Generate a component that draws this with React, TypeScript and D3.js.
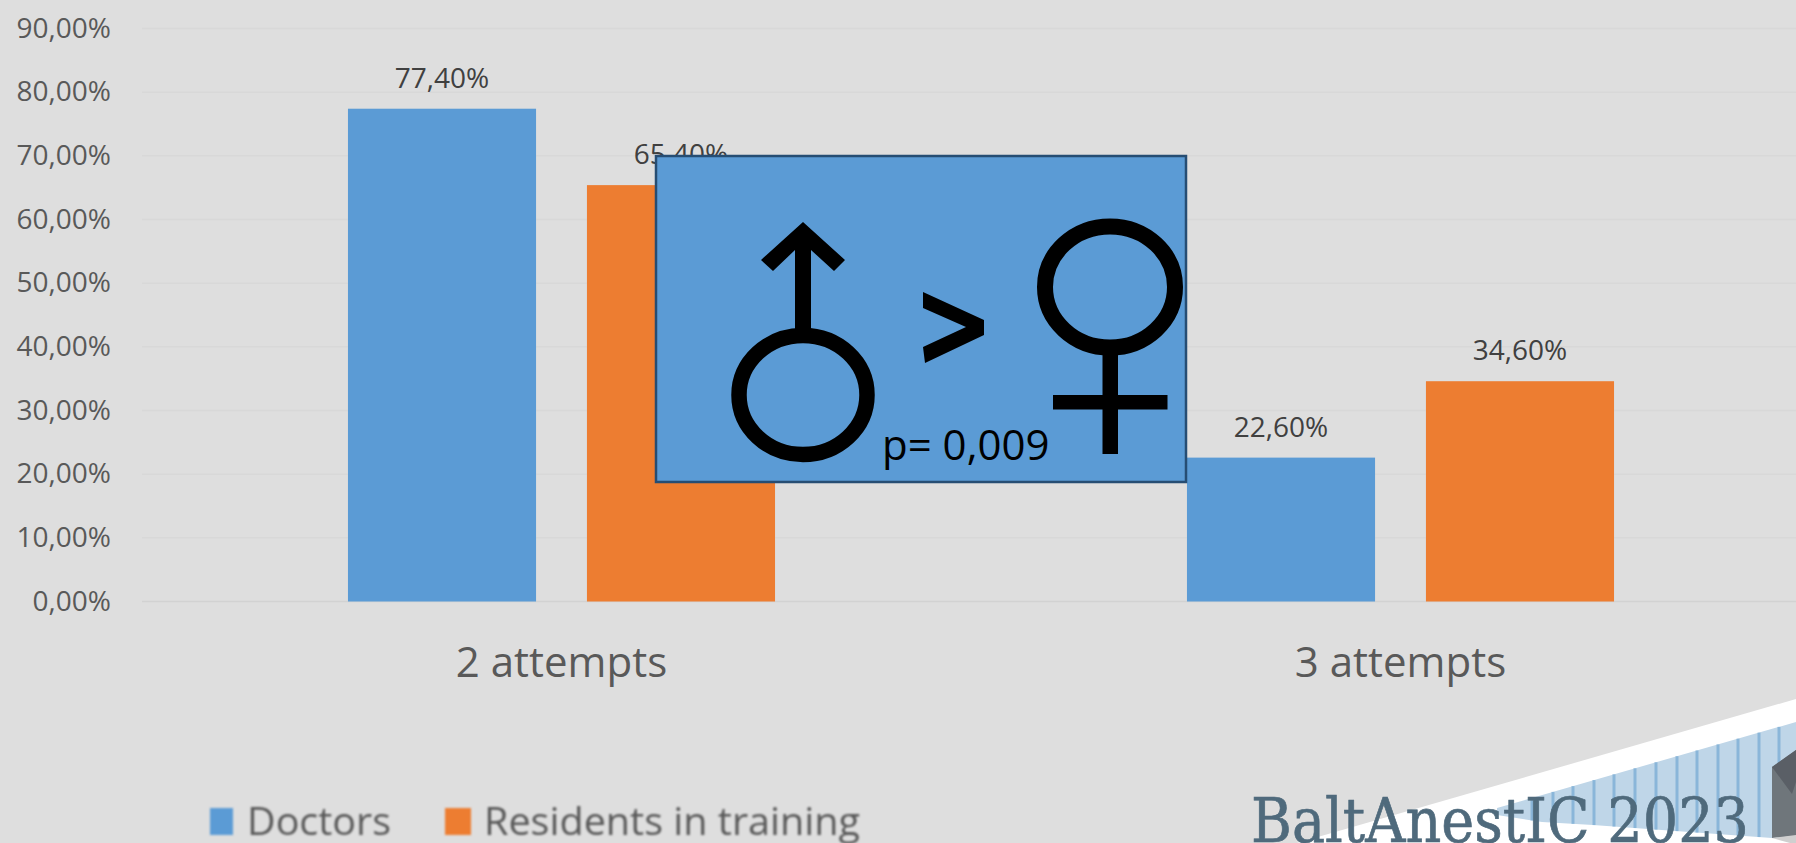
import React from "react";
import * as d3 from "d3";

const W = 1796, H = 843;
const categories = ["2 attempts", "3 attempts"];
const seriesNames = ["Doctors", "Residents in training"];
const doctors = [77.4, 22.6];
const residents = [65.4, 34.6];
const ticks = [0, 10, 20, 30, 40, 50, 60, 70, 80, 90];
const colors = ["#5b9bd5", "#ed7d31"];
const stripes = [1512, 1532, 1553, 1573, 1594, 1614, 1635, 1656, 1677, 1697, 1718, 1738, 1759, 1779];

const fmt = (v: number) => v.toFixed(2).replace(".", ",") + "%";
const F = "'Open Sans', sans-serif";

export default function App() {
  const y = d3.scaleLinear().domain([0, 90]).range([601.5, 28.5]);
  const x0 = d3.scaleBand<string>().domain(categories).range([142, 1820]).paddingInner(0.491).paddingOuter(0.2455);
  const x1 = d3.scaleBand<string>().domain(seriesNames).range([0, x0.bandwidth()]).paddingInner(0.213);
  const values = [doctors, residents];
  const bandTop = (x: number) => 808 + (x - 1497) * (722 - 808) / (1796 - 1497);
  const bandBot = d3.scaleLinear().domain([1497, 1542, 1593, 1772]).range([815, 822, 825, 838]);
  return (
    <svg width={W} height={H} style={{ position: "absolute", left: 0, top: 0, background: "#dedede" }}>
      <rect x={0} y={0} width={W} height={H} fill="#dedede" />
      {ticks.map((t) => (
        <g key={t}>
          <line x1={142} x2={W} y1={y(t)} y2={y(t)} stroke={t === 0 ? "#d2d2d2" : "#d8d8d8"} strokeWidth={1.5} />
          <text x={111} y={y(t) + 9} textAnchor="end" fontFamily={F} fontSize={28} fill="#595959">{fmt(t)}</text>
        </g>
      ))}
      {categories.map((c, i) => (
        <g key={c}>
          {seriesNames.map((s, j) => {
            const bx = x0(c)! + x1(s)!;
            const v = values[j][i];
            return (
              <g key={s}>
                <rect x={bx} y={y(v)} width={x1.bandwidth()} height={y(0) - y(v)} fill={colors[j]} />
                <text x={bx + x1.bandwidth() / 2} y={y(v) - 21} textAnchor="middle" fontFamily={F} fontSize={28} fill="#404040">{fmt(v)}</text>
              </g>
            );
          })}
          <text x={x0(c)! + x0.bandwidth() / 2} y={677} textAnchor="middle" fontFamily={F} fontSize={42} fill="#595959">{c}</text>
        </g>
      ))}

      {/* overlay box */}
      <rect x={656} y={156} width={530} height={326} fill="#5b9bd5" stroke="#264d73" strokeWidth={2.5} />
      <ellipse cx={803} cy={395} rx={64} ry={59.5} fill="none" stroke="#000" strokeWidth={15.5} />
      <polygon points="803,222 845,260 834,271 811,250 811,332 795,332 795,250 773,271 761,260" fill="#000" />
      <polygon points="923,292 984,320 984,335 925,363 923,347 966,327 923,308" fill="#000" />
      <ellipse cx={1110} cy={287} rx={65} ry={60.5} fill="none" stroke="#000" strokeWidth={16} />
      <rect x={1102.5} y={352} width={15.5} height={102} fill="#000" />
      <rect x={1053} y={395} width={114.5} height={14.5} fill="#000" />
      <text x={882} y={460} fontFamily={F} fontSize={42} fill="#000">p= 0,009</text>

      {/* legend */}
      <g style={{ filter: "blur(1px)" }}>
        <rect x={210} y={808} width={23} height={27} fill={colors[0]} />
        <text x={247} y={835} fontFamily={F} fontSize={38} fill="#595959" textLength={144} lengthAdjust="spacingAndGlyphs">{seriesNames[0]}</text>
        <rect x={445} y={808} width={26} height={27} fill={colors[1]} />
        <text x={484} y={835} fontFamily={F} fontSize={38} fill="#595959" textLength={376} lengthAdjust="spacingAndGlyphs">{seriesNames[1]}</text>
      </g>

      {/* conference mark */}
      <polygon points={`1297,843 ${W},699 ${W},${H}`} fill="#ffffff" />
      <polygon points={`1497,808 ${W},722 ${W},836 1772,838 1593,825 1542,822 1497,815`} fill="#bfd6e8" />
      {stripes.map((s) => (
        <line key={s} x1={s} x2={s} y1={bandTop(s)} y2={bandBot(Math.min(s, 1772))} stroke="#8ab6d9" strokeWidth={3} />
      ))}
      <polygon points={`1772,767 ${W},750 ${W},836 1772,838`} fill="#6f767b" />
      <polygon points={`1772,767 ${W},750 ${W},782 1792,794`} fill="#5a5f66" />
      <polygon points={`1772,838 ${W},835 ${W},${H} 1790,${H}`} fill="#cfcfcf" />
      <text x={1251} y={842} fontFamily="'DejaVu Serif', serif" fontSize={62} fill="#4f6a7c" stroke="#4f6a7c" strokeWidth={0.7} textLength={498} lengthAdjust="spacingAndGlyphs">BaltAnestIC 2023</text>
    </svg>
  );
}
